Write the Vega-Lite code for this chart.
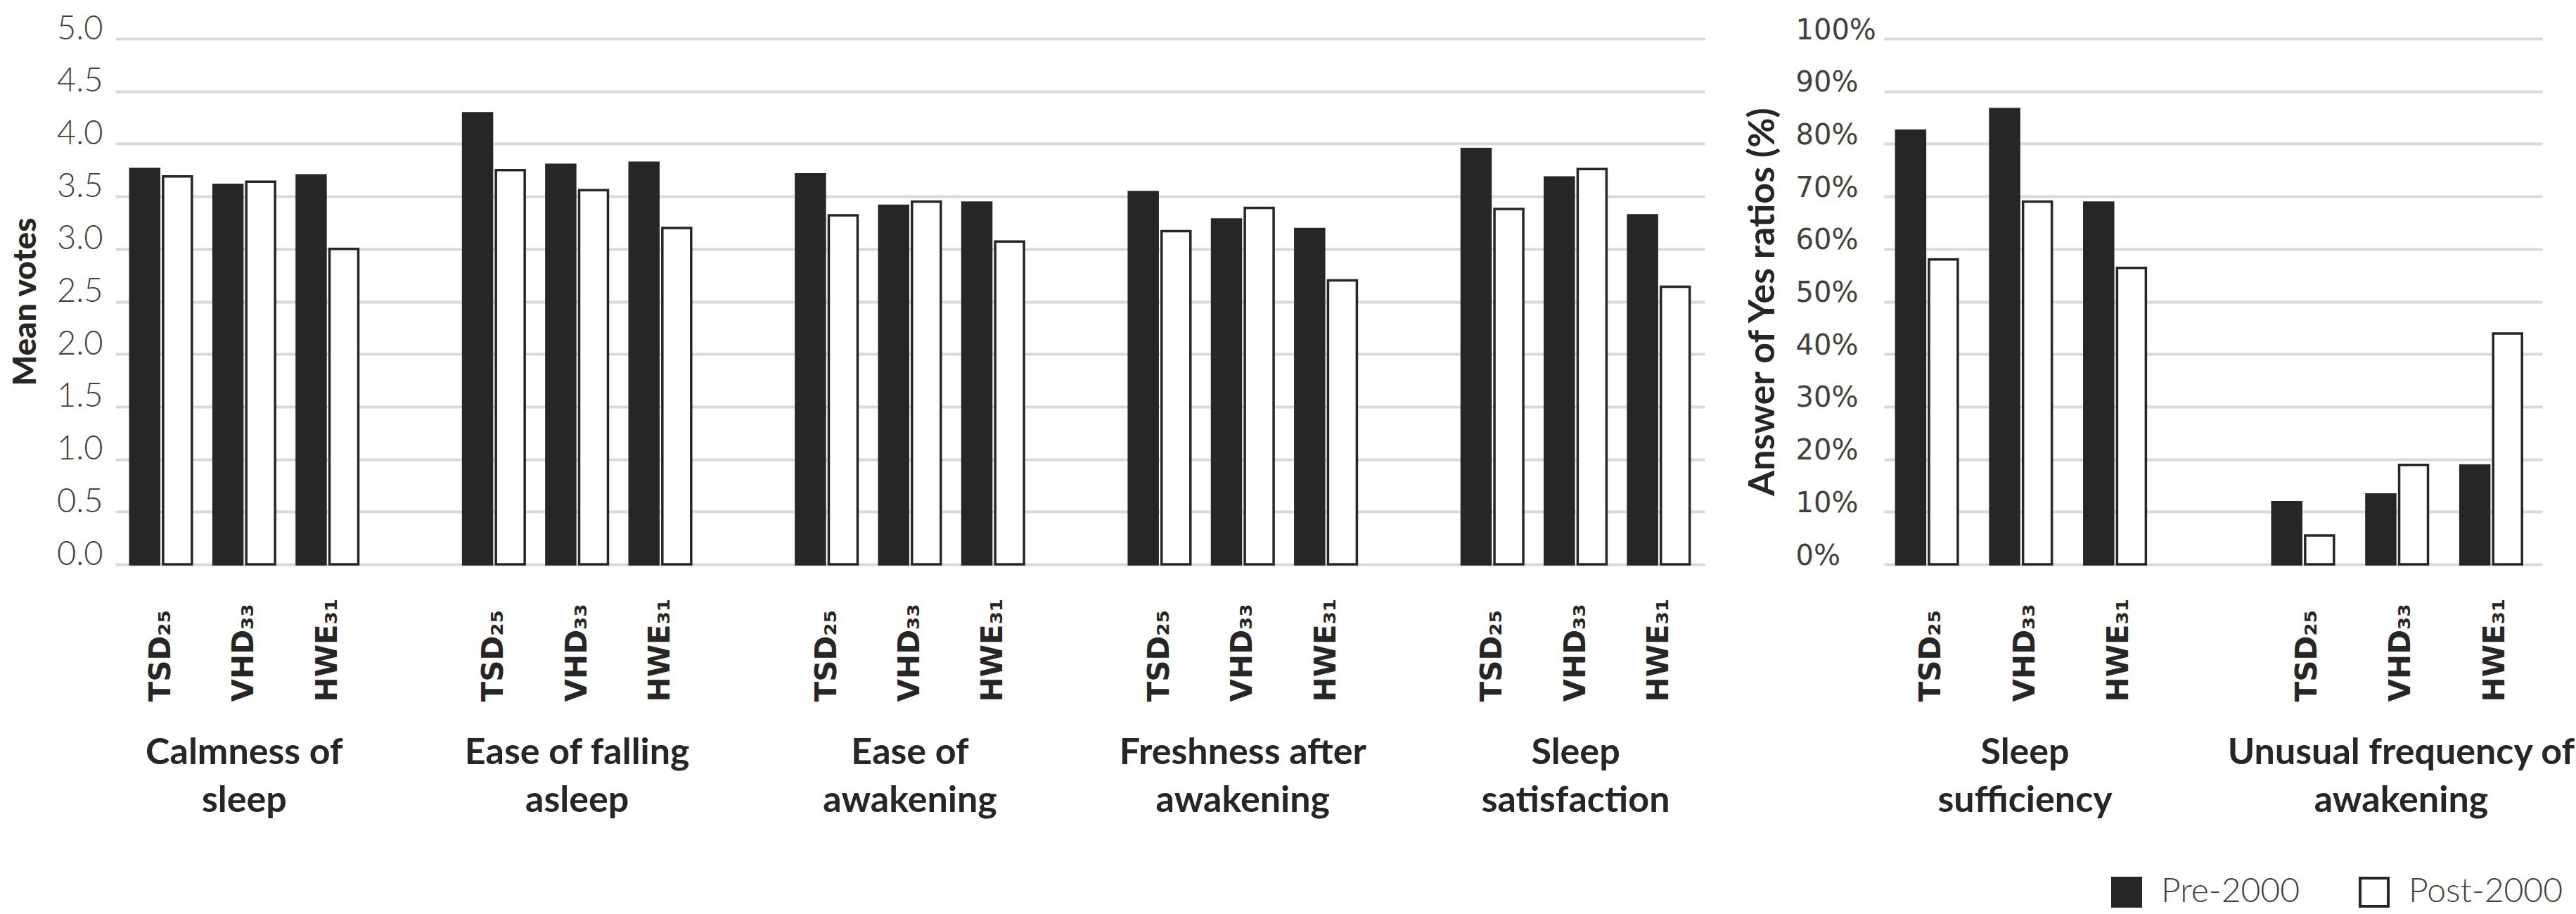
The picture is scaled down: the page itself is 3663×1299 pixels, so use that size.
{
  "$schema": "https://vega.github.io/schema/vega-lite/v6.json",
  "background": "white",
  "padding": {"left": 13, "top": 17, "right": 0, "bottom": 0},
  "config": {"view": {"stroke": null}},
  "datasets": {
    "left": [
      {"group": "Calmness of sleep", "key": "Calmness of~sleep|TSD₂₅", "period": "Pre-2000", "value": 3.76},
      {"group": "Calmness of sleep", "key": "Calmness of~sleep|TSD₂₅", "period": "Post-2000", "value": 3.69},
      {"group": "Calmness of sleep", "key": "Calmness of~sleep|VHD₃₃", "period": "Pre-2000", "value": 3.61},
      {"group": "Calmness of sleep", "key": "Calmness of~sleep|VHD₃₃", "period": "Post-2000", "value": 3.64},
      {"group": "Calmness of sleep", "key": "Calmness of~sleep|HWE₃₁", "period": "Pre-2000", "value": 3.70},
      {"group": "Calmness of sleep", "key": "Calmness of~sleep|HWE₃₁", "period": "Post-2000", "value": 3.00},
      {"group": "Ease of falling asleep", "key": "Ease of falling~asleep|TSD₂₅", "period": "Pre-2000", "value": 4.29},
      {"group": "Ease of falling asleep", "key": "Ease of falling~asleep|TSD₂₅", "period": "Post-2000", "value": 3.75},
      {"group": "Ease of falling asleep", "key": "Ease of falling~asleep|VHD₃₃", "period": "Pre-2000", "value": 3.80},
      {"group": "Ease of falling asleep", "key": "Ease of falling~asleep|VHD₃₃", "period": "Post-2000", "value": 3.56},
      {"group": "Ease of falling asleep", "key": "Ease of falling~asleep|HWE₃₁", "period": "Pre-2000", "value": 3.82},
      {"group": "Ease of falling asleep", "key": "Ease of falling~asleep|HWE₃₁", "period": "Post-2000", "value": 3.20},
      {"group": "Ease of awakening", "key": "Ease of~awakening|TSD₂₅", "period": "Pre-2000", "value": 3.71},
      {"group": "Ease of awakening", "key": "Ease of~awakening|TSD₂₅", "period": "Post-2000", "value": 3.32},
      {"group": "Ease of awakening", "key": "Ease of~awakening|VHD₃₃", "period": "Pre-2000", "value": 3.41},
      {"group": "Ease of awakening", "key": "Ease of~awakening|VHD₃₃", "period": "Post-2000", "value": 3.45},
      {"group": "Ease of awakening", "key": "Ease of~awakening|HWE₃₁", "period": "Pre-2000", "value": 3.44},
      {"group": "Ease of awakening", "key": "Ease of~awakening|HWE₃₁", "period": "Post-2000", "value": 3.07},
      {"group": "Freshness after awakening", "key": "Freshness after~awakening|TSD₂₅", "period": "Pre-2000", "value": 3.54},
      {"group": "Freshness after awakening", "key": "Freshness after~awakening|TSD₂₅", "period": "Post-2000", "value": 3.17},
      {"group": "Freshness after awakening", "key": "Freshness after~awakening|VHD₃₃", "period": "Pre-2000", "value": 3.28},
      {"group": "Freshness after awakening", "key": "Freshness after~awakening|VHD₃₃", "period": "Post-2000", "value": 3.39},
      {"group": "Freshness after awakening", "key": "Freshness after~awakening|HWE₃₁", "period": "Pre-2000", "value": 3.19},
      {"group": "Freshness after awakening", "key": "Freshness after~awakening|HWE₃₁", "period": "Post-2000", "value": 2.70},
      {"group": "Sleep satisfaction", "key": "Sleep~satisfaction|TSD₂₅", "period": "Pre-2000", "value": 3.95},
      {"group": "Sleep satisfaction", "key": "Sleep~satisfaction|TSD₂₅", "period": "Post-2000", "value": 3.38},
      {"group": "Sleep satisfaction", "key": "Sleep~satisfaction|VHD₃₃", "period": "Pre-2000", "value": 3.68},
      {"group": "Sleep satisfaction", "key": "Sleep~satisfaction|VHD₃₃", "period": "Post-2000", "value": 3.76},
      {"group": "Sleep satisfaction", "key": "Sleep~satisfaction|HWE₃₁", "period": "Pre-2000", "value": 3.32},
      {"group": "Sleep satisfaction", "key": "Sleep~satisfaction|HWE₃₁", "period": "Post-2000", "value": 2.64}
    ],
    "right": [
      {"group": "Sleep sufficiency", "key": "Sleep~sufficiency|TSD₂₅", "period": "Pre-2000", "value": 82.5},
      {"group": "Sleep sufficiency", "key": "Sleep~sufficiency|TSD₂₅", "period": "Post-2000", "value": 58.0},
      {"group": "Sleep sufficiency", "key": "Sleep~sufficiency|VHD₃₃", "period": "Pre-2000", "value": 86.6},
      {"group": "Sleep sufficiency", "key": "Sleep~sufficiency|VHD₃₃", "period": "Post-2000", "value": 69.0},
      {"group": "Sleep sufficiency", "key": "Sleep~sufficiency|HWE₃₁", "period": "Pre-2000", "value": 68.8},
      {"group": "Sleep sufficiency", "key": "Sleep~sufficiency|HWE₃₁", "period": "Post-2000", "value": 56.4},
      {"group": "Unusual frequency of awakening", "key": "Unusual frequency of~awakening|TSD₂₅", "period": "Pre-2000", "value": 11.8},
      {"group": "Unusual frequency of awakening", "key": "Unusual frequency of~awakening|TSD₂₅", "period": "Post-2000", "value": 5.5},
      {"group": "Unusual frequency of awakening", "key": "Unusual frequency of~awakening|VHD₃₃", "period": "Pre-2000", "value": 13.3},
      {"group": "Unusual frequency of awakening", "key": "Unusual frequency of~awakening|VHD₃₃", "period": "Post-2000", "value": 18.9},
      {"group": "Unusual frequency of awakening", "key": "Unusual frequency of~awakening|HWE₃₁", "period": "Pre-2000", "value": 18.8},
      {"group": "Unusual frequency of awakening", "key": "Unusual frequency of~awakening|HWE₃₁", "period": "Post-2000", "value": 43.9}
    ]
  },
  "spacing": 56,
  "hconcat": [
    {
      "width": 2260,
      "height": 747,
      "data": {"name": "left"},
      "resolve": {"axis": {"x": "independent"}},
      "layer": [
        {
          "mark": {"type": "bar", "stroke": "#262626", "strokeWidth": 3.5},
          "encoding": {
            "x": {
              "field": "key", "type": "nominal", "sort": null,
              "scale": {
                "domain": ["Calmness of~sleep|TSD₂₅", "Calmness of~sleep|VHD₃₃", "Calmness of~sleep|HWE₃₁", "gap1",
                           "Ease of falling~asleep|TSD₂₅", "Ease of falling~asleep|VHD₃₃", "Ease of falling~asleep|HWE₃₁", "gap2",
                           "Ease of~awakening|TSD₂₅", "Ease of~awakening|VHD₃₃", "Ease of~awakening|HWE₃₁", "gap3",
                           "Freshness after~awakening|TSD₂₅", "Freshness after~awakening|VHD₃₃", "Freshness after~awakening|HWE₃₁", "gap4",
                           "Sleep~satisfaction|TSD₂₅", "Sleep~satisfaction|VHD₃₃", "Sleep~satisfaction|HWE₃₁"],
                "paddingInner": 0.26, "paddingOuter": 0.18
              },
              "axis": {
                "orient": "bottom", "title": null, "domain": false, "ticks": false, "grid": false,
                "labelExpr": "indexof(datum.value, '|') >= 0 ? split(datum.value, '|')[1] : ''",
                "labelAngle": 270, "labelAlign": "left", "labelBaseline": "middle",
                "labelPadding": 195, "labelFont": "DejaVu Sans", "labelFontWeight": "bold",
                "labelFontSize": 42, "labelColor": "#262626",
                "labelOverlap": false, "labelBound": false, "labelFlush": false, "labelLimit": 0
              }
            },
            "xOffset": {"field": "period", "type": "nominal", "sort": ["Pre-2000", "Post-2000"],
                        "scale": {"domain": ["Pre-2000", "Post-2000"], "paddingInner": 0.12}},
            "y": {
              "field": "value", "type": "quantitative",
              "scale": {"domain": [0, 5], "nice": false},
              "axis": {
                "values": [0, 0.5, 1, 1.5, 2, 2.5, 3, 3.5, 4, 4.5, 5], "format": ".1f",
                "grid": true, "gridColor": "#d9d9d9", "gridWidth": 4,
                "domain": false, "ticks": false,
                "labelFont": "Lato", "labelFontWeight": 300, "labelFontSize": 47, "labelColor": "#404040",
                "labelBaseline": "alphabetic", "labelPadding": 18,
                "title": "Mean votes", "titleFont": "Lato", "titleFontWeight": 900,
                "titleFontSize": 46, "titleColor": "#262626", "titlePadding": 20
              }
            },
            "fill": {
              "field": "period", "type": "nominal",
              "scale": {"domain": ["Pre-2000", "Post-2000"], "range": ["#262626", "#ffffff"]},
              "legend": {
                "orient": "none", "legendX": 2836, "legendY": 1189, "direction": "horizontal",
                "title": null, "symbolType": "square", "symbolSize": 1600,
                "symbolStrokeColor": "#262626", "symbolStrokeWidth": 4,
                "labelFont": "Lato", "labelFontWeight": 300, "labelFontSize": 48, "labelColor": "#404040",
                "labelOffset": 25, "columnPadding": 78, "labelLimit": 0
              }
            }
          }
        },
        {
          "mark": {"type": "point", "opacity": 0},
          "encoding": {
            "x": {
              "field": "key", "type": "nominal",
              "axis": {
                "orient": "bottom", "title": null, "domain": false, "ticks": false, "grid": false,
                "labelExpr": "indexof(datum.value, '|VHD') >= 0 ? split(split(datum.value, '|')[0], '~') : ''",
                "labelAngle": 0, "labelAlign": "center", "labelBaseline": "top",
                "labelPadding": 242, "labelFont": "Lato", "labelFontWeight": "bold",
                "labelFontSize": 52, "labelLineHeight": 68, "labelColor": "#262626",
                "labelOverlap": false, "labelBound": false, "labelFlush": false, "labelLimit": 0
              }
            }
          }
        }
      ]
    },
    {
      "width": 936,
      "height": 747,
      "data": {"name": "right"},
      "resolve": {"axis": {"x": "independent"}},
      "layer": [
        {
          "mark": {"type": "bar", "stroke": "#262626", "strokeWidth": 3.5},
          "encoding": {
            "x": {
              "field": "key", "type": "nominal", "sort": null,
              "scale": {
                "domain": ["Sleep~sufficiency|TSD₂₅", "Sleep~sufficiency|VHD₃₃", "Sleep~sufficiency|HWE₃₁", "gap1",
                           "Unusual frequency of~awakening|TSD₂₅", "Unusual frequency of~awakening|VHD₃₃", "Unusual frequency of~awakening|HWE₃₁"],
                "paddingInner": 0.26, "paddingOuter": 0.13
              },
              "axis": {
                "orient": "bottom", "title": null, "domain": false, "ticks": false, "grid": false,
                "labelExpr": "indexof(datum.value, '|') >= 0 ? split(datum.value, '|')[1] : ''",
                "labelAngle": 270, "labelAlign": "left", "labelBaseline": "middle",
                "labelPadding": 195, "labelFont": "DejaVu Sans", "labelFontWeight": "bold",
                "labelFontSize": 42, "labelColor": "#262626",
                "labelOverlap": false, "labelBound": false, "labelFlush": false, "labelLimit": 0
              }
            },
            "xOffset": {"field": "period", "type": "nominal", "sort": ["Pre-2000", "Post-2000"],
                        "scale": {"domain": ["Pre-2000", "Post-2000"], "paddingInner": 0.2}},
            "y": {
              "field": "value", "type": "quantitative",
              "scale": {"domain": [0, 100], "nice": false},
              "axis": {
                "values": [0, 10, 20, 30, 40, 50, 60, 70, 80, 90, 100],
                "labelExpr": "datum.value + '%'",
                "grid": true, "gridColor": "#d9d9d9", "gridWidth": 4,
                "domain": false, "ticks": false,
                "labelFont": "DejaVu Sans", "labelFontSize": 40, "labelColor": "#404040",
                "labelBaseline": "alphabetic", "labelAlign": "left", "labelPadding": 126,
                "title": "Answer of Yes ratios (%)", "titleFont": "Lato", "titleFontWeight": "bold",
                "titleFontSize": 52, "titleColor": "#262626", "titlePadding": 20
              }
            },
            "fill": {"field": "period", "type": "nominal"}
          }
        },
        {
          "mark": {"type": "point", "opacity": 0},
          "encoding": {
            "x": {
              "field": "key", "type": "nominal",
              "axis": {
                "orient": "bottom", "title": null, "domain": false, "ticks": false, "grid": false,
                "labelExpr": "indexof(datum.value, '|VHD') >= 0 ? split(split(datum.value, '|')[0], '~') : ''",
                "labelAngle": 0, "labelAlign": "center", "labelBaseline": "top",
                "labelPadding": 242, "labelFont": "Lato", "labelFontWeight": "bold",
                "labelFontSize": 52, "labelLineHeight": 68, "labelColor": "#262626",
                "labelOverlap": false, "labelBound": false, "labelFlush": false, "labelLimit": 0
              }
            }
          }
        }
      ]
    }
  ]
}
